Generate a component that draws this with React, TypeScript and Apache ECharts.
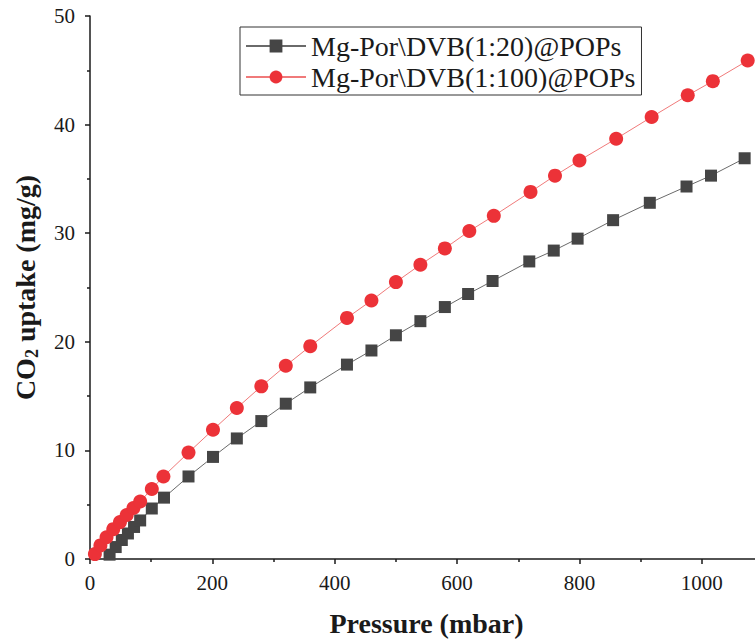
import React, { useEffect, useRef } from "react";
import * as echarts from "echarts";

const pressure20 = [32, 42, 52, 62, 72, 82, 101, 121, 161, 201, 240, 280, 320, 360, 420, 460, 500, 540, 580, 618, 658, 718, 758, 797, 855, 915, 975, 1015, 1070];
const uptake20 = [0.4, 1.1, 1.75, 2.35, 2.95, 3.55, 4.65, 5.65, 7.6, 9.4, 11.1, 12.7, 14.3, 15.8, 17.9, 19.2, 20.6, 21.9, 23.2, 24.4, 25.6, 27.4, 28.4, 29.5, 31.2, 32.8, 34.3, 35.3, 36.9];

const pressure100 = [8, 17, 27, 38, 49, 60, 71, 82, 101, 120, 161, 201, 240, 280, 320, 360, 420, 460, 500, 540, 580, 620, 660, 720, 760, 800, 860, 918, 977, 1018, 1075];
const uptake100 = [0.45, 1.25, 2.0, 2.75, 3.4, 4.05, 4.7, 5.3, 6.45, 7.6, 9.8, 11.9, 13.9, 15.9, 17.8, 19.6, 22.2, 23.8, 25.5, 27.1, 28.6, 30.2, 31.6, 33.8, 35.3, 36.7, 38.7, 40.7, 42.7, 44.0, 45.9];

const seriesNames = ["Mg-Por\\DVB(1:20)@POPs", "Mg-Por\\DVB(1:100)@POPs"];

const FONT = "Liberation Serif, Times New Roman, serif";
const INK = "#1a1a1a";

export default function App() {
  const ref = useRef<HTMLDivElement>(null);
  useEffect(() => {
    if (!ref.current) return;
    const chart = echarts.init(ref.current, undefined, { renderer: "svg" });
    const axisCommon = {
      axisLine: { show: true, lineStyle: { color: INK, width: 1.5 } },
      axisTick: { show: true, inside: false, length: 5, lineStyle: { color: INK, width: 1.5 } },
      minorTick: { show: true, splitNumber: 2, length: 3, lineStyle: { color: INK, width: 1.5 } },
      splitLine: { show: false },
      minorSplitLine: { show: false },
      axisLabel: { color: INK, fontFamily: FONT, fontSize: 21, formatter: (v: number) => String(v) },
    };
    chart.setOption({
      animation: false,
      backgroundColor: "#ffffff",
      grid: { left: 90, right: -8, top: 16, bottom: 85, containLabel: false, outerBoundsMode: "none" },
      legend: {
        orient: "vertical",
        left: 240,
        top: 27,
        itemWidth: 60,
        itemHeight: 16,
        itemGap: 3,
        padding: [5, 6, 4, 5],
        borderColor: "#333",
        borderWidth: 1,
        textStyle: { fontFamily: FONT, fontSize: 28, color: INK },
        data: seriesNames,
      },
      xAxis: {
        type: "value",
        min: 0,
        max: 1100,
        interval: 200,
        name: "Pressure (mbar)",
        nameLocation: "middle",
        nameGap: 50,
        nameTextStyle: { fontFamily: FONT, fontSize: 28, fontWeight: "bold", color: INK },
        ...axisCommon,
        axisLabel: { ...axisCommon.axisLabel, margin: 13, showMaxLabel: false },
      },
      yAxis: {
        type: "value",
        min: 0,
        max: 50,
        interval: 10,
        name: "{b|CO}{s|2}{b| uptake (mg/g)}",
        nameLocation: "middle",
        nameGap: 49,
        nameTextStyle: {
          fontFamily: FONT,
          fontWeight: "bold",
          color: INK,
          rich: {
            b: { fontFamily: FONT, fontSize: 28, fontWeight: "bold", color: INK },
            s: { fontFamily: FONT, fontSize: 18, fontWeight: "bold", color: INK, padding: [14, 0, 0, 0] },
          },
        },
        ...axisCommon,
        axisLabel: { ...axisCommon.axisLabel, margin: 15 },
      },
      series: [
        {
          name: seriesNames[0],
          type: "line",
          data: pressure20.map((p, i) => [p, uptake20[i]]),
          symbol: "rect",
          symbolSize: 12,
          itemStyle: { color: "#454545" },
          lineStyle: { color: "#6a6a6a", width: 1 },
          z: 2,
        },
        {
          name: seriesNames[1],
          type: "line",
          data: pressure100.map((p, i) => [p, uptake100[i]]),
          symbol: "circle",
          symbolSize: 14,
          itemStyle: { color: "#ec3238" },
          lineStyle: { color: "#f07a7a", width: 1 },
          z: 3,
        },
      ],
    });
    return () => chart.dispose();
  }, []);
  return (
    <div
      ref={ref}
      style={{ position: "fixed", left: 0, top: 0, width: 755, height: 644, background: "#fff" }}
    />
  );
}
